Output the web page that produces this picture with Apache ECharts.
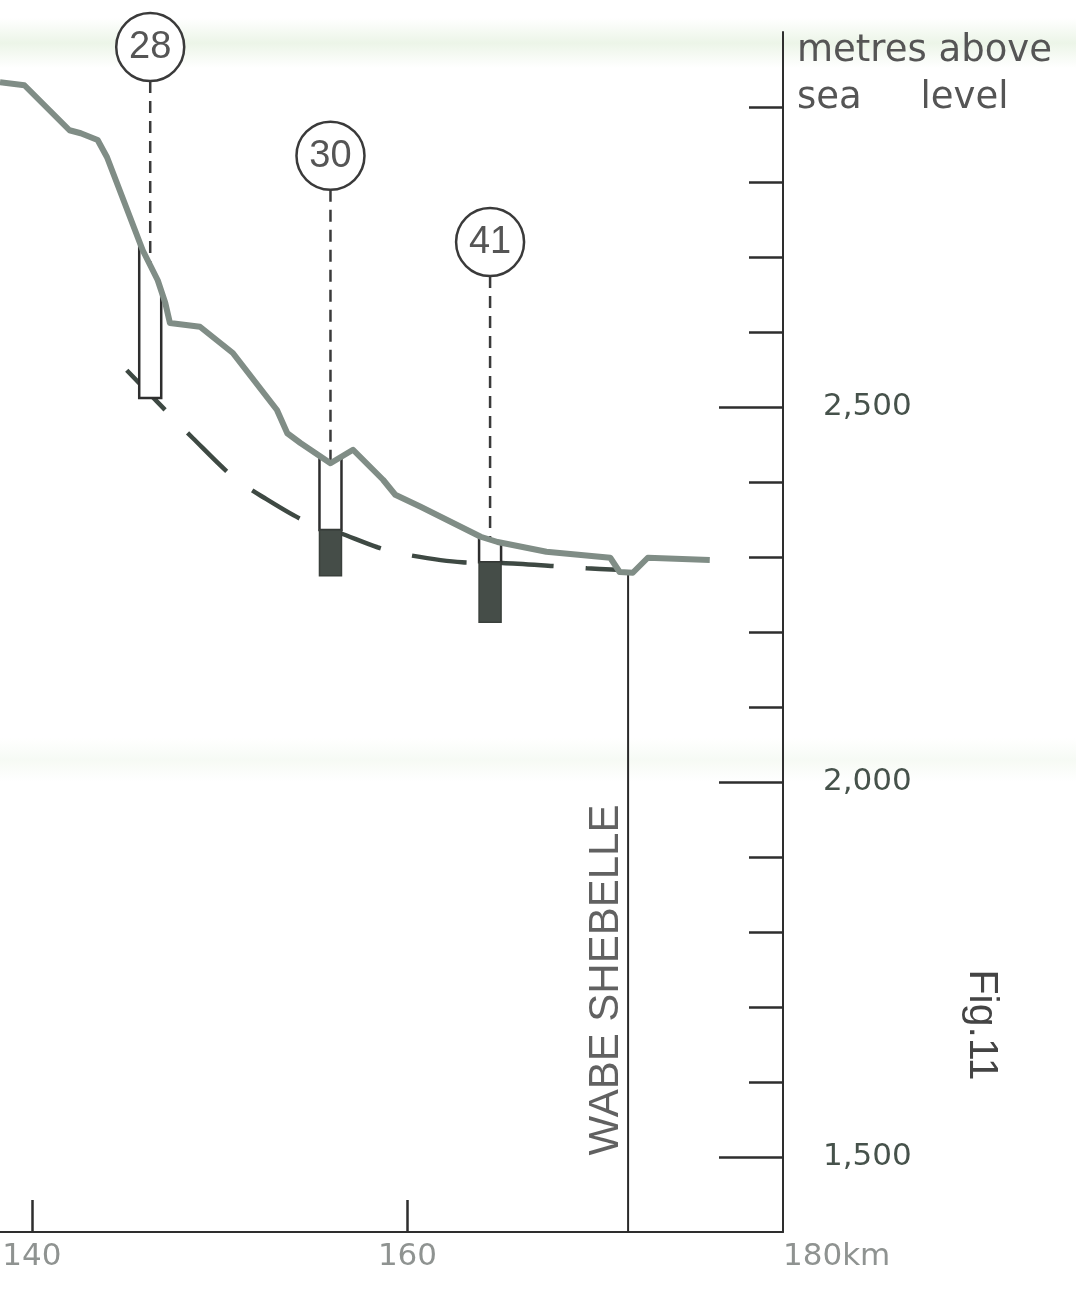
<!DOCTYPE html>
<html>
<head>
<meta charset="utf-8">
<script src="https://cdn.jsdelivr.net/npm/echarts@6/dist/echarts.min.js"></script>
<style>
html,body{margin:0;padding:0;background:#ffffff;}
#c{width:1076px;height:1310px;}
</style>
</head>
<body>
<div id="c"></div>
<script>
// ---- data (km along profile, metres above sea level) ----
const profileKm   = [138.3, 139.6, 142.0, 142.6, 143.5, 144.0, 145.9, 146.3, 146.7, 147.1, 147.35, 148.95, 150.7, 153.05, 153.6, 154.3, 155.9, 157.1, 158.7, 159.35, 160.7, 163.9, 164.8, 167.4, 170.8, 171.3, 172.0, 172.8, 176.1];
const profileElev = [2933, 2929, 2869, 2865, 2856, 2833, 2709, 2689, 2669, 2639, 2612, 2607, 2572, 2496, 2465, 2452, 2425, 2443, 2403, 2383, 2367, 2327, 2320, 2307, 2299, 2280, 2279, 2299, 2296];

const waterKm   = [145.05, 147.45, 148.55, 150.7, 152.3, 154.45, 156.4, 158.4, 159.75, 162.9, 165.05, 167.75, 169.55, 171.15];
const waterElev = [2549, 2487, 2459, 2407, 2380, 2349, 2332, 2313, 2304, 2293, 2292, 2288, 2285, 2283];

const wellNames      = ['28', '30', '41'];
const wellKm         = [146.3, 155.9, 164.4];
const wellWaterElev  = [2512, 2336, 2293];
const wellBottomElev = [2512, 2275, 2213];
const wellLabelElev  = [2980, 2835, 2720];

const riverName      = 'WABE SHEBELLE';
const riverKm        = 171.75;
const riverLabelKm   = 170.62;
const riverLabelElev = 1736;

const xTickValues   = [140, 160];
const xLabelValues  = [140, 160, 180];
const xUnit         = 'km';
const yLabelValues  = [1500, 2000, 2500];
const yMinorTicks   = [1600, 1700, 1800, 1900, 2100, 2200, 2300, 2400, 2600, 2700, 2800, 2900];
const yAxisName     = 'metres above\nsea     level';
const figureLabel   = 'Fig.11';

// ---- helpers ----
function surfaceAt(km) {
  for (let i = 0; i < profileKm.length - 1; i++) {
    if (km >= profileKm[i] && km <= profileKm[i + 1]) {
      const t = (km - profileKm[i]) / (profileKm[i + 1] - profileKm[i]);
      return profileElev[i] + t * (profileElev[i + 1] - profileElev[i]);
    }
  }
  return profileElev[profileElev.length - 1];
}
function withComma(v) {
  return String(v).replace(/\B(?=(\d{3})+(?!\d))/g, ',');
}

const INK = '#2e2e2e';

function renderWell(params, api) {
  const km = api.value(0), water = api.value(1), bottom = api.value(2);
  const pW = api.coord([km, water]);
  const pxPerKm = api.coord([km + 1, water])[0] - pW[0];
  const half = 11 / pxPerKm;
  const kL = km - half, kR = km + half;
  const tL = api.coord([kL, surfaceAt(kL)]);
  const tR = api.coord([kR, surfaceAt(kR)]);
  const bL = api.coord([kL, water]);
  const bR = api.coord([kR, water]);
  const children = [
    { type: 'polygon', shape: { points: [tL, bL, bR, tR] }, style: { fill: '#ffffff' } },
    { type: 'polyline', shape: { points: [tL, bL, bR, tR] }, style: { stroke: INK, lineWidth: 2.5, fill: 'none' } }
  ];
  if (bottom < water) {
    const d = api.coord([kR, bottom]);
    children.push({
      type: 'rect',
      shape: { x: bL[0], y: bL[1], width: bR[0] - bL[0], height: d[1] - bL[1] },
      style: { fill: '#454d48', stroke: '#3a403c', lineWidth: 1.5 }
    });
  }
  return { type: 'group', children };
}

function renderLabel(params, api) {
  const km = api.value(0), le = api.value(1);
  const c = api.coord([km, le]);
  const s = api.coord([km, surfaceAt(km)]);
  const r = 34;
  return {
    type: 'group',
    children: [
      { type: 'line', shape: { x1: c[0], y1: c[1] + r, x2: s[0], y2: s[1] },
        style: { stroke: '#3a3a3a', lineWidth: 2.5, lineDash: [12, 8] } },
      { type: 'circle', shape: { cx: c[0], cy: c[1], r: r },
        style: { fill: '#ffffff', stroke: '#3a3a3a', lineWidth: 2.5 } },
      { type: 'text', x: c[0], y: c[1] + 1,
        style: { text: wellNames[params.dataIndex], fontSize: 38, fontFamily: 'Liberation Sans',
                 fill: '#555555', align: 'center', verticalAlign: 'middle' } }
    ]
  };
}

const chart = echarts.init(document.getElementById('c'), null, { renderer: 'canvas' });

const bandGrad = () => new echarts.graphic.LinearGradient(0, 0, 0, 1, [
  { offset: 0, color: 'rgba(236,245,232,0)' },
  { offset: 0.5, color: 'rgba(236,245,232,1)' },
  { offset: 1, color: 'rgba(236,245,232,0)' }
]);

const option = {
  animation: false,
  backgroundColor: '#ffffff',
  grid: { left: 0, right: 293, top: 32, bottom: 78, outerBoundsMode: 'none' },
  graphic: [
    { type: 'rect', z: -10, silent: true, shape: { x: 0, y: 18, width: 1076, height: 50 }, style: { fill: bandGrad() } },
    { type: 'rect', z: -10, silent: true, shape: { x: 0, y: 738, width: 1076, height: 44 }, style: { fill: bandGrad(), opacity: 0.45 } },
    { type: 'text', x: 981, y: 1025, rotation: -Math.PI / 2,
      style: { text: figureLabel, fontSize: 41, fontFamily: 'Liberation Sans', fill: '#444444',
               align: 'center', verticalAlign: 'middle' } }
  ],
  xAxis: {
    type: 'value', min: 138.3, max: 180,
    splitLine: { show: false },
    axisLine: { show: true, lineStyle: { color: INK, width: 2 } },
    axisTick: { show: true, inside: true, length: 32, customValues: xTickValues,
                lineStyle: { color: INK, width: 2.5 } },
    axisLabel: { customValues: xLabelValues, alignMaxLabel: 'left',
                 formatter: v => (v === 180 ? v + xUnit : String(v)),
                 color: '#8f9391', fontSize: 31, fontFamily: 'DejaVu Sans', margin: 9 }
  },
  yAxis: [
    {
      type: 'value', min: 1400, max: 3000, position: 'right',
      name: yAxisName, nameLocation: 'end', nameGap: 4,
      nameTextStyle: { align: 'left', verticalAlign: 'top', fontSize: 37, fontFamily: 'DejaVu Sans',
                       color: '#555555', lineHeight: 47, padding: [0, 0, 0, 14] },
      splitLine: { show: false },
      axisLine: { show: true, lineStyle: { color: INK, width: 2 } },
      axisTick: { show: true, inside: true, length: 34, customValues: yMinorTicks,
                  lineStyle: { color: INK, width: 2.5 } },
      axisLabel: { customValues: yLabelValues, formatter: v => withComma(v),
                   color: '#46524b', fontSize: 31, fontFamily: 'DejaVu Sans', margin: 40 }
    },
    {
      type: 'value', min: 1400, max: 3000, position: 'right',
      splitLine: { show: false },
      axisLine: { show: false },
      axisTick: { show: true, inside: true, length: 64, customValues: yLabelValues,
                  lineStyle: { color: INK, width: 2.5 } },
      axisLabel: { show: false }
    }
  ],
  series: [
    {
      type: 'line', name: 'water table', z: 2, silent: true,
      data: waterKm.map((k, i) => [k, waterElev[i]]),
      smooth: 0.3, symbol: 'none',
      lineStyle: { type: [55, 32], width: 4.5, color: '#3e4943' }
    },
    {
      type: 'line', name: 'river', z: 2, silent: true,
      data: [[riverKm, surfaceAt(riverKm)], [riverKm, 1400]],
      symbol: 'none',
      lineStyle: { color: '#2a2a2a', width: 2 }
    },
    {
      type: 'custom', name: 'wells', z: 3, silent: true,
      encode: { x: 0, y: 1 },
      data: wellKm.map((k, i) => [k, wellWaterElev[i], wellBottomElev[i]]),
      renderItem: renderWell
    },
    {
      type: 'custom', name: 'well labels', z: 3, silent: true,
      encode: { x: 0, y: 1 },
      data: wellKm.map((k, i) => [k, wellLabelElev[i]]),
      renderItem: renderLabel
    },
    {
      type: 'line', name: 'profile', z: 4, silent: true,
      data: profileKm.map((k, i) => [k, profileElev[i]]),
      symbol: 'none',
      lineStyle: { color: '#808d86', width: 6, join: 'round' }
    },
    {
      type: 'scatter', name: 'river label', z: 3, silent: true,
      data: [[riverLabelKm, riverLabelElev]],
      symbolSize: 1, itemStyle: { color: 'rgba(0,0,0,0)' },
      label: { show: true, position: 'inside', formatter: riverName, rotate: 90,
               fontSize: 42, fontFamily: 'Liberation Sans', color: '#3a3a3a' }
    }
  ]
};
chart.setOption(option);
</script>
</body>
</html>
